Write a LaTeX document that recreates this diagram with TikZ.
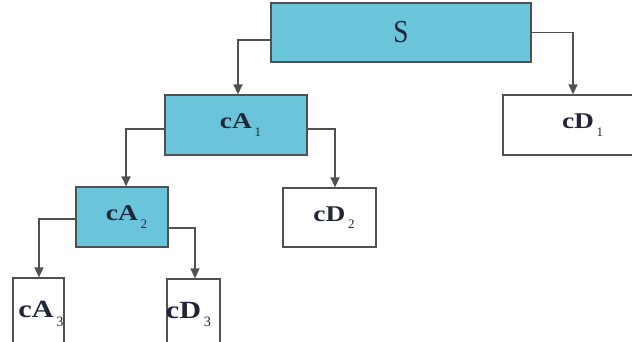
\documentclass[tikz,border=0pt]{standalone}
\usepackage{fontspec}
\setmainfont{Liberation Serif}
\usetikzlibrary{arrows.meta}
\definecolor{boxfill}{RGB}{106,196,218}
\definecolor{edge}{RGB}{80,80,80}
\definecolor{txt}{RGB}{34,38,56}
\newcommand\lbl[2]{\scalebox{1.22}[1]{\fontsize{22.5}{22.5}\selectfont\bfseries #1}\rlap{\kern2.5pt\raisebox{-7.5pt}{\fontsize{13}{13}\selectfont\mdseries #2}}}
\tikzset{
  box/.style={draw=edge, line width=1.3pt, rectangle, inner sep=0pt, text=txt},
  filled/.style={box, fill=boxfill},
  plain/.style={box, fill=white},
  conn/.style={draw=edge, line width=1.4pt, -{Triangle[length=10pt,width=9pt]}}
}
\begin{document}
\begin{tikzpicture}[x=1pt,y=-1pt]
\useasboundingbox (0,0) rectangle (632,342);
\clip (0,0) rectangle (632,342);
\fill[white] (0,0) rectangle (632,342);
\node[filled, minimum width=260pt, minimum height=59pt] (S) at (401,32.5)
  {\fontsize{32}{32}\selectfont\scalebox{0.85}[1]{S}};
\node[filled, minimum width=142pt, minimum height=60pt] (cA1) at (236,125) {\lbl{cA}{1}};
\node[plain, minimum width=150pt, minimum height=60pt] (cD1) at (578,125) {\lbl{cD}{1}};
\node[filled, minimum width=92pt, minimum height=60pt] (cA2) at (122,217) {\lbl{cA}{2}};
\node[plain, minimum width=93pt, minimum height=59pt] (cD2) at (329.5,217.5) {\lbl{cD}{2}};
\node[plain, minimum width=51pt, minimum height=72pt] (cA3) at (38.5,314)
  {\hspace*{-5pt}\raisebox{5pt}{\scalebox{1.1}{\lbl{cA}{3}}}};
\node[plain, minimum width=53pt, minimum height=71pt] (cD3) at (193.5,314.5)
  {\hspace*{-20pt}\raisebox{5pt}{\scalebox{1.1}{\lbl{cD}{3}}}};
\draw[conn] ([yshift=-7.5pt]S.west) -| ([xshift=2pt]cA1.north);
\draw[conn] (S.east) -| ([xshift=-5pt]cD1.north);
\draw[conn] ([yshift=-4pt]cA1.west) -| ([xshift=4pt]cA2.north);
\draw[conn] ([yshift=-4pt]cA1.east) -| ([xshift=5.5pt]cD2.north);
\draw[conn] ([yshift=-2pt]cA2.west) -| ([xshift=0.5pt]cA3.north);
\draw[conn] ([yshift=-11pt]cA2.east) -| ([xshift=1.5pt]cD3.north);
\end{tikzpicture}
\end{document}
